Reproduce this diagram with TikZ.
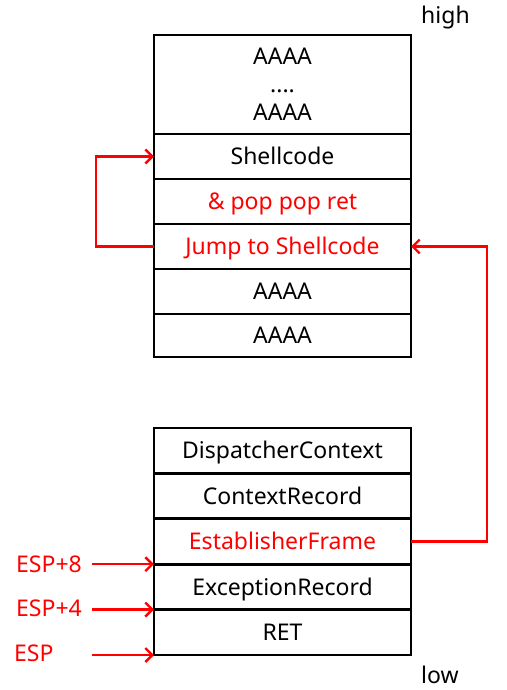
\documentclass[tikz,border=0pt]{standalone}
\usepackage{fontspec}
\setmainfont{Noto Sans}
\usepackage{tikz}
\usetikzlibrary{arrows.meta, positioning}
\tikzstyle{cell} = [rectangle, draw=black, line width=2.8pt, outer sep=0pt, minimum width=257pt, minimum height=45pt, inner sep=0pt, text height=16.5pt, text depth=0pt, text centered, font=\fontsize{23}{28}\selectfont]
\tikzstyle{hot} = [text=red]
\tikzstyle{tag} = [font=\fontsize{23}{28}\selectfont, inner sep=0pt]
\tikzstyle{arrow} = [red, line width=2.4pt, -{Straight Barb[length=7pt,width=14pt]}]

\begin{document}
\begin{tikzpicture}[x=1pt, y=-1pt, node distance=0pt]
    \useasboundingbox (0,0) rectangle (506,690);

    % === upper stack ===
    \node (fill) [cell, text height=, text depth=, minimum height=99pt, align=center] at (282.5,84.5) {AAAA\\....\\AAAA};
    \node (shell) [cell, below=of fill] {Shellcode};
    \node (ppr) [cell, hot, below=of shell] {\& pop pop ret};
    \node (jump) [cell, hot, below=of ppr] {Jump to Shellcode};
    \node (padone) [cell, below=of jump] {AAAA};
    \node (padtwo) [cell, minimum height=43pt, below=of padone] {AAAA};

    % === lower stack ===
    \node (disp) [cell, minimum height=45.4pt] at (282.5,450.7) {DispatcherContext};
    \node (ctx) [cell, minimum height=45.4pt, below=of disp] {ContextRecord};
    \node (estab) [cell, hot, minimum height=45.4pt, below=of ctx] {EstablisherFrame};
    \node (exc) [cell, minimum height=45.4pt, below=of estab] {ExceptionRecord};
    \node (ret) [cell, minimum height=45.4pt, below=of exc] {RET};

    % high / low
    \node (high) [tag, anchor=west] at (421,18) {high};
    \node (low) [tag, anchor=west] at (421,675) {low};

    % ESP labels
    \node (espeight) [tag, hot, anchor=west] at (16,564) {ESP+8};
    \node (espfour) [tag, hot, anchor=west] at (16,608) {ESP+4};
    \node (esp) [tag, hot, anchor=west] at (14,653) {ESP};

    % === arrows ===
    \draw [arrow] (jump.west) -- ++(-58,0) |- (shell.west);
    \draw [arrow] (estab.east) -- ++(76,0) |- (jump.east);

    \draw [arrow] ([xshift=10pt]espeight.east |- exc.north west) -- (exc.north west);
    \draw [arrow] ([xshift=10pt]espeight.east |- ret.north west) -- (ret.north west);
    \draw [arrow] ([xshift=10pt]espeight.east |- ret.south west) -- (ret.south west);

\end{tikzpicture}
\end{document}
